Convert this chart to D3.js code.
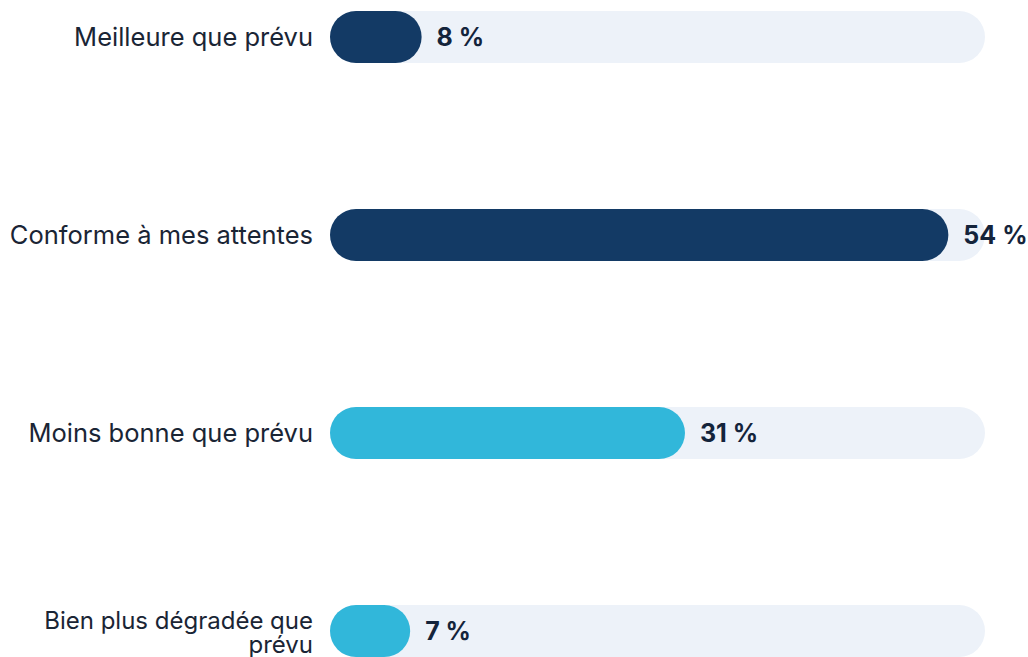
<!DOCTYPE html>
<html>
<head>
<meta charset="utf-8">
<script src="https://cdn.jsdelivr.net/npm/d3@7"></script>
<style>
  body { margin: 0; background: #fff; }
  svg { display: block; font-family: Inter, "Noto Sans", sans-serif; }
</style>
</head>
<body>
<svg id="chart" width="1028" height="657"></svg>
<script>
var categories = ["Meilleure que prévu", "Conforme à mes attentes", "Moins bonne que prévu", "Bien plus dégradée que prévu"];
var values = [8, 54, 31, 7];
var colors = ["#133a65", "#133a65", "#31b7da", "#31b7da"];

var width = 1028, height = 657;
var barH = 52;

var svg = d3.select('#chart');

var x = d3.scaleLinear()
    .domain([0, 57.2])
    .range([330, 985]);

var y = d3.scalePoint()
    .domain(categories)
    .range([37, 631]);

var rows = svg.selectAll('.row')
    .data(categories)
    .enter().append('g')
    .attr('class', 'row')
    .attr('transform', function (d) { return 'translate(0,' + y(d) + ')'; });

// background track
rows.append('rect')
    .attr('x', x(0))
    .attr('y', -barH / 2)
    .attr('width', x.range()[1] - x(0))
    .attr('height', barH)
    .attr('rx', barH / 2)
    .style('fill', '#edf2f9');

// value bar
rows.append('rect')
    .attr('x', x(0))
    .attr('y', -barH / 2)
    .attr('width', function (d, i) { return Math.max(barH, x(values[i]) - x(0)); })
    .attr('height', barH)
    .attr('rx', barH / 2)
    .style('fill', function (d, i) { return colors[i]; });

// value labels
rows.append('text')
    .attr('x', function (d, i) { return x(values[i]) + 15; })
    .attr('dy', '0.36em')
    .style('font-size', '25px')
    .style('font-weight', 700)
    .style('fill', '#14243b')
    .text(function (d, i) { return values[i] + ' %'; });

// category labels (long one wraps onto two smaller lines)
rows.append('text')
    .attr('text-anchor', 'end')
    .style('fill', '#1a2535')
    .each(function (d) {
        var t = d3.select(this);
        var wrap = d.length > 24;
        var lines = wrap ? [d.slice(0, d.lastIndexOf(' ')), d.slice(d.lastIndexOf(' ') + 1)] : [d];
        t.style('font-size', wrap ? '24px' : '25.5px');
        var start = wrap ? -0.08 : 0.36;
        lines.forEach(function (l, k) {
            t.append('tspan')
                .attr('x', 313)
                .attr('dy', (k === 0 ? start : 1.0) + 'em')
                .text(l);
        });
    });
</script>
</body>
</html>
